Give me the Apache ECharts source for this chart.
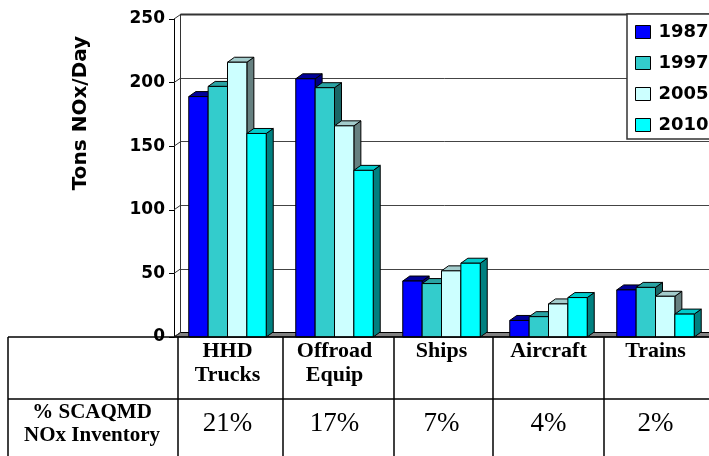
<!DOCTYPE html>
<html><head><meta charset="utf-8">
<script src="https://cdn.jsdelivr.net/npm/echarts@6/dist/echarts.min.js"></script>
<style>html,body{margin:0;padding:0;background:#fff}#c{width:709px;height:456px}</style>
</head><body><div id="c"></div>
<script>
// ---- data ----
const categories = ['HHD\nTrucks', 'Offroad\nEquip', 'Ships', 'Aircraft', 'Trains'];
const years = ['1987', '1997', '2005', '2010'];
const v1987 = [189, 203, 44, 13, 37];
const v1997 = [197, 196, 42, 16, 39];
const v2005 = [216, 166, 52, 26, 32];
const v2010 = [160, 131, 58, 31, 18];
const pctInventory = ['21%', '17%', '7%', '4%', '2%'];
const rowLabel = '% SCAQMD\nNOx Inventory';
const yTitle = 'Tons NOx/Day';
const yMin = 0, yMax = 250, yStep = 50;

// ---- styles ----
const frontCol = ['#0000FF', '#33CCCC', '#CCFFFF', '#00FFFF'];
const topCol   = ['#000099', '#29A3A3', '#A3CCCC', '#00CCCC'];
const sideCol  = ['#000080', '#1A6666', '#668080', '#008080'];
const L = 174, T = 19, W = 536.5, H = 318;
const DX = 7, DY = -5;      // bar depth
const WX = 6.5, WY = -4.5;  // wall depth

const chart = echarts.init(document.getElementById('c'), null, {renderer: 'canvas'});

function makeRender(si) {
  return function (params, api) {
    const ci = api.value(0), val = api.value(1);
    const base = api.coord([ci, 0]);
    const tp = api.coord([ci, val]);
    const band = api.size([1, 0])[0];
    const bw = band * 0.181;
    const x0 = base[0] - 2 * bw + si * bw, x1 = x0 + bw;
    const yb = base[1], yt = tp[1];
    const st = {stroke: '#000', lineWidth: 1};
    return {type: 'group', children: [
      {type: 'polygon', shape: {points: [[x1, yb], [x1 + DX, yb + DY], [x1 + DX, yt + DY], [x1, yt]]},
        style: Object.assign({fill: sideCol[si]}, st)},
      {type: 'polygon', shape: {points: [[x0, yt], [x0 + DX, yt + DY], [x1 + DX, yt + DY], [x1, yt]]},
        style: Object.assign({fill: topCol[si]}, st)},
      {type: 'rect', shape: {x: x0, y: yt, width: bw, height: yb - yt},
        style: Object.assign({fill: frontCol[si]}, st)}
    ]};
  };
}

const seriesVals = [v1987, v1997, v2005, v2010];
const series = seriesVals.map((arr, si) => ({
  type: 'custom', name: years[si], xAxisIndex: 0, yAxisIndex: 0, z: 3,
  itemStyle: {color: frontCol[si], borderColor: '#000', borderWidth: 1},
  renderItem: makeRender(si),
  data: arr.map((v, i) => [i, v])
}));

const graphics = [];
// floor
graphics.push({type: 'polygon', z: 1, shape: {points: [[L, T + H], [L + W, T + H], [L + W + WX, T + H + WY], [L + WX, T + H + WY]]},
  style: {fill: '#808080', stroke: '#000', lineWidth: 1}});
// wall connectors at ticks
for (let v = yMin; v <= yMax; v += yStep) {
  const y = T + H - (v - yMin) / (yMax - yMin) * H;
  graphics.push({type: 'line', z: 1, shape: {x1: L, y1: y, x2: L + WX, y2: y + WY}, style: {stroke: '#333', lineWidth: 1}});
}
// top edge of back wall
graphics.push({type: 'line', z: 1, shape: {x1: L + WX, y1: T + WY, x2: 709, y2: T + WY}, style: {stroke: '#333', lineWidth: 2}});
// y title
graphics.push({type: 'text', z: 5, x: 81, y: 113, rotation: Math.PI / 2,
  style: {text: yTitle, fill: '#000', font: 'bold 20px "DejaVu Sans"', textAlign: 'center', textVerticalAlign: 'middle'}});
// table lines
const tl = {stroke: '#000', lineWidth: 1.5};
graphics.push({type: 'line', z: 6, shape: {x1: 8, y1: 337, x2: 709, y2: 337}, style: tl});
graphics.push({type: 'line', z: 6, shape: {x1: 8, y1: 399, x2: 709, y2: 399}, style: tl});
[8, 178, 283, 394, 493, 604].forEach(x => {
  graphics.push({type: 'line', z: 6, shape: {x1: x, y1: 337, x2: x, y2: 456}, style: tl});
});
graphics.push({type: 'text', z: 6, x: 92, y: 424,
  style: {text: rowLabel, fill: '#000', font: 'bold 21px "Liberation Serif"', textAlign: 'center', textVerticalAlign: 'middle', lineHeight: 23.5}});

chart.setOption({
  animation: false,
  backgroundColor: '#fff',
  grid: [
    {left: L, top: T, width: W, height: H},
    {left: L + WX, top: T + WY, width: W, height: H}
  ],
  xAxis: [
    {type: 'category', gridIndex: 0, data: categories,
      axisLine: {show: false}, axisTick: {show: false},
      axisLabel: {margin: 2, color: '#000', fontFamily: 'Liberation Serif', fontWeight: 'bold', fontSize: 22, lineHeight: 24, interval: 0}},
    {type: 'category', gridIndex: 1, data: categories, show: false},
    {type: 'category', gridIndex: 0, data: categories, position: 'bottom',
      axisLine: {show: false}, axisTick: {show: false},
      axisLabel: {margin: 73, color: '#000', fontFamily: 'Liberation Serif', fontSize: 27, lineHeight: 27, interval: 0,
        formatter: (v, i) => pctInventory[i]}}
  ],
  yAxis: [
    {type: 'value', gridIndex: 0, min: yMin, max: yMax, interval: yStep,
      axisLine: {show: true, lineStyle: {color: '#000', width: 1}},
      axisTick: {show: true, length: 5, lineStyle: {color: '#000'}},
      splitLine: {show: false},
      axisLabel: {margin: 9, color: '#000', fontFamily: 'DejaVu Sans', fontWeight: 'bold', fontSize: 17}},
    {type: 'value', gridIndex: 1, min: yMin, max: yMax, interval: yStep,
      axisLine: {show: true, lineStyle: {color: '#333', width: 1}},
      axisTick: {show: false}, axisLabel: {show: false},
      splitLine: {show: true, lineStyle: {color: '#444', width: 1}}}
  ],
  legend: {
    data: years, orient: 'vertical', left: 627, top: 14,
    padding: [9, 20, 5, 8], itemGap: 13, itemWidth: 15, itemHeight: 13,
    backgroundColor: '#fff', borderColor: '#333', borderWidth: 1.5,
    icon: 'rect', itemStyle: {borderColor: '#000', borderWidth: 1},
    textStyle: {fontFamily: 'DejaVu Sans', fontWeight: 'bold', fontSize: 18, color: '#000', padding: [0, 0, 0, 3]},
    z: 10
  },
  graphic: graphics,
  series: series
});
</script></body></html>
